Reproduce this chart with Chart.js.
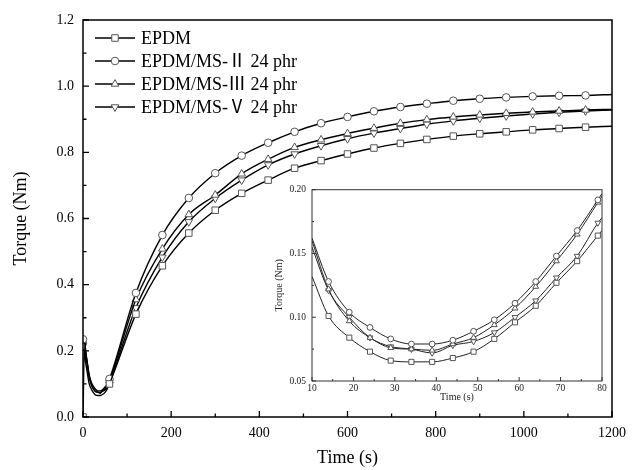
<!DOCTYPE html>
<html><head><meta charset="utf-8">
<script src="https://cdn.jsdelivr.net/npm/chart.js@4/dist/chart.umd.min.js"></script>
<style>
html,body{margin:0;padding:0;background:#fff;}
#wrap{position:relative;width:634px;height:470px;overflow:hidden;}
#main{position:absolute;left:0;top:0;}
#inset{position:absolute;left:262px;top:178px;}
</style></head><body>
<div id="wrap">
<canvas id="main" width="634" height="470"></canvas>
<canvas id="inset" width="352" height="232"></canvas>
</div>
<script>
// ---------- data ----------
const seriesNames = ['EPDM', 'EPDM/MS-Ⅱ 24 phr', 'EPDM/MS-Ⅲ 24 phr', 'EPDM/MS-Ⅴ 24 phr'];

const mainTimes = [0,3,6,10,14,19,24,29,34,39,44,49,54,60,120,180,240,300,360,420,480,540,600,660,720,780,840,900,960,1020,1080,1140,1200];
const mainEPDM  = [0.000,0.205,0.165,0.132,0.101,0.084,0.073,0.066,0.065,0.065,0.068,0.073,0.083,0.100,0.311,0.457,0.556,0.625,0.676,0.716,0.752,0.775,0.795,0.813,0.827,0.839,0.849,0.856,0.862,0.868,0.872,0.876,0.879];
const mainMS2   = [0.235,0.240,0.200,0.162,0.128,0.104,0.092,0.083,0.079,0.079,0.082,0.089,0.098,0.115,0.375,0.550,0.662,0.737,0.790,0.829,0.862,0.888,0.907,0.924,0.937,0.947,0.956,0.962,0.966,0.969,0.971,0.972,0.975];
const mainMS3   = [0.230,0.240,0.197,0.160,0.122,0.097,0.084,0.076,0.075,0.074,0.079,0.084,0.094,0.110,0.355,0.508,0.612,0.671,0.735,0.779,0.815,0.838,0.857,0.873,0.888,0.899,0.907,0.913,0.918,0.922,0.925,0.928,0.930];
const mainMS5   = [0.215,0.235,0.192,0.155,0.121,0.100,0.084,0.077,0.075,0.072,0.078,0.081,0.088,0.105,0.330,0.483,0.590,0.661,0.716,0.762,0.795,0.820,0.841,0.858,0.872,0.885,0.895,0.903,0.910,0.916,0.921,0.925,0.928];

const insetTimes = [10,14,19,24,29,34,39,44,49,54,59,64,69,74,79,80];
const insetEPDM  = [0.132,0.101,0.084,0.073,0.066,0.065,0.065,0.068,0.073,0.083,0.096,0.109,0.127,0.144,0.164,0.168];
const insetMS2   = [0.162,0.128,0.104,0.092,0.083,0.079,0.079,0.082,0.089,0.098,0.111,0.128,0.148,0.168,0.192,0.197];
const insetMS3   = [0.160,0.122,0.097,0.084,0.076,0.075,0.074,0.079,0.084,0.094,0.107,0.124,0.144,0.165,0.190,0.195];
const insetMS5   = [0.155,0.121,0.100,0.084,0.077,0.075,0.072,0.078,0.081,0.088,0.100,0.113,0.131,0.148,0.174,0.178];

const mainXTicks  = [0,200,400,600,800,1000,1200];
const mainXMinor  = [100,300,500,700,900,1100];
const mainYTicks  = [0.0,0.2,0.4,0.6,0.8,1.0,1.2];
const mainYMinor  = [0.1,0.3,0.5,0.7,0.9,1.1];
const insetXTicks = [10,20,30,40,50,60,70,80];
const insetXMinor = [15,25,35,45,55,65,75];
const insetYTicks = [0.05,0.10,0.15,0.20];
const insetYMinor = [0.075,0.125,0.175];

// ---------- styling ----------
const FONT = '"Liberation Serif", "Times New Roman", "Noto Sans CJK SC", serif';
const markerStyles = [
  {pointStyle:'rect', rotation:0},
  {pointStyle:'circle', rotation:0},
  {pointStyle:'triangle', rotation:0},
  {pointStyle:'triangle', rotation:180}
];
const mainRadius  = [4.6, 3.8, 4.4, 4.4];
const insetRadius = [3.6, 2.9, 3.4, 3.4];

function decor(cfg) {
  return {
    id: 'decor',
    afterDraw(chart) {
      const {ctx, chartArea: a, scales: {x, y}} = chart;
      ctx.save();
      ctx.strokeStyle = cfg.color;
      ctx.lineWidth = cfg.tickWidth;
      ctx.beginPath();
      cfg.xMajor.forEach(v => { const p = x.getPixelForValue(v); ctx.moveTo(p, a.bottom); ctx.lineTo(p, a.bottom - cfg.major); });
      cfg.xMinor.forEach(v => { const p = x.getPixelForValue(v); ctx.moveTo(p, a.bottom); ctx.lineTo(p, a.bottom - cfg.minor); });
      cfg.yMajor.forEach(v => { const p = y.getPixelForValue(v); ctx.moveTo(a.left, p); ctx.lineTo(a.left + cfg.major, p); });
      cfg.yMinor.forEach(v => { const p = y.getPixelForValue(v); ctx.moveTo(a.left, p); ctx.lineTo(a.left + cfg.minor, p); });
      ctx.stroke();
      ctx.lineWidth = cfg.frameWidth;
      ctx.strokeRect(a.left, a.top, a.right - a.left, a.bottom - a.top);
      ctx.restore();
    }
  };
}

const legendPlugin = {
  id: 'boxLegend',
  afterDraw(chart) {
    const ctx = chart.ctx;
    ctx.save();
    chart.data.datasets.forEach((ds, i) => {
      const yy = 38 + i * 23;
      ctx.strokeStyle = '#000';
      ctx.lineWidth = 1.4;
      ctx.beginPath(); ctx.moveTo(95, yy); ctx.lineTo(135, yy); ctx.stroke();
      ctx.fillStyle = '#fff';
      ctx.strokeStyle = '#555';
      ctx.lineWidth = 1;
      Chart.helpers.drawPoint(ctx, {pointStyle: ds.pointStyle, rotation: ds.pointRotation, radius: mainRadius[i], borderWidth: 1}, 115, yy);
      ctx.fillStyle = '#000';
      ctx.font = '18px ' + FONT;
      ctx.textAlign = 'left';
      ctx.textBaseline = 'middle';
      ctx.fillText(ds.label, 141, yy + 1);
    });
    ctx.restore();
  }
};

function makeDatasets(times, seriesList, radii, lineColor, lineWidth, showMarker) {
  return seriesList.map((vals, i) => ({
    label: seriesNames[i],
    data: times.map((t, k) => ({x: t, y: vals[k]})),
    borderColor: lineColor,
    borderWidth: lineWidth,
    pointStyle: markerStyles[i].pointStyle,
    pointRotation: markerStyles[i].rotation,
    pointRadius: c => (c.raw && showMarker(c.raw.x)) ? radii[i] : 0,
    pointHoverRadius: 0,
    pointBackgroundColor: '#fff',
    pointBorderColor: '#555',
    pointBorderWidth: 1,
    cubicInterpolationMode: 'monotone',
    fill: false
  }));
}

// ---------- main chart ----------
new Chart(document.getElementById('main'), {
  type: 'line',
  data: {
    datasets: makeDatasets(mainTimes, [mainEPDM, mainMS2, mainMS3, mainMS5], mainRadius, '#000', 1.4,
      t => t % 60 === 0 && t < 1200)
  },
  options: {
    responsive: false, animation: false, devicePixelRatio: 1,
    layout: {padding: {left: 0, top: 20, right: 18, bottom: 0}},
    plugins: {legend: {display: false}, tooltip: {enabled: false}},
    scales: {
      x: {
        type: 'linear', min: 0, max: 1200,
        afterBuildTicks: s => { s.ticks = mainXTicks.map(v => ({value: v})); },
        afterFit: s => { s.height = 53; },
        grid: {display: false, drawTicks: false}, border: {display: false},
        ticks: {padding: 8, color: '#000', font: {family: FONT, size: 14}, maxRotation: 0, autoSkip: false, callback: v => String(v)},
        title: {display: true, text: 'Time (s)', color: '#000', font: {family: FONT, size: 18}, padding: {top: 0, bottom: 1}}
      },
      y: {
        type: 'linear', min: 0, max: 1.2,
        afterBuildTicks: s => { s.ticks = mainYTicks.map(v => ({value: v})); },
        afterFit: s => { s.width = 83; },
        grid: {display: false, drawTicks: false}, border: {display: false},
        ticks: {padding: 9, color: '#000', font: {family: FONT, size: 14}, autoSkip: false, callback: v => Number(v).toFixed(1)},
        title: {display: true, text: 'Torque (Nm)', color: '#000', font: {family: FONT, size: 18}, padding: {top: 10, bottom: 0}}
      }
    }
  },
  plugins: [decor({color: '#000', tickWidth: 1.3, frameWidth: 1.5, major: 6, minor: 3.5,
    xMajor: mainXTicks, xMinor: mainXMinor, yMajor: mainYTicks, yMinor: mainYMinor}), legendPlugin]
});

// ---------- inset chart ----------
new Chart(document.getElementById('inset'), {
  type: 'line',
  data: {
    datasets: makeDatasets(insetTimes, [insetEPDM, insetMS2, insetMS3, insetMS5], insetRadius, '#222', 1,
      t => t > 10 && t < 80)
  },
  options: {
    responsive: false, animation: false, devicePixelRatio: 1,
    layout: {padding: {left: 0, top: 10, right: 12, bottom: 0}},
    plugins: {legend: {display: false}, tooltip: {enabled: false}},
    scales: {
      x: {
        type: 'linear', min: 10, max: 80,
        afterBuildTicks: s => { s.ticks = insetXTicks.map(v => ({value: v})); },
        afterFit: s => { s.height = 29; },
        grid: {display: false, drawTicks: false}, border: {display: false},
        ticks: {padding: 2, color: '#222', font: {family: FONT, size: 9.5}, maxRotation: 0, autoSkip: false, callback: v => String(v)},
        title: {display: true, text: 'Time (s)', color: '#222', font: {family: FONT, size: 10}, padding: {top: 0, bottom: 6.5}}
      },
      y: {
        type: 'linear', min: 0.05, max: 0.20,
        afterBuildTicks: s => { s.ticks = insetYTicks.map(v => ({value: v})); },
        afterFit: s => { s.width = 50; },
        grid: {display: false, drawTicks: false}, border: {display: false},
        ticks: {padding: 6, color: '#222', font: {family: FONT, size: 9.5}, autoSkip: false, callback: v => Number(v).toFixed(2)},
        title: {display: true, text: 'Torque (Nm)', color: '#222', font: {family: FONT, size: 10}, padding: {top: 11, bottom: 0}}
      }
    }
  },
  plugins: [decor({color: '#333', tickWidth: 1, frameWidth: 1, major: 4, minor: 2,
    xMajor: insetXTicks, xMinor: insetXMinor, yMajor: insetYTicks, yMinor: insetYMinor})]
});
</script>
</body></html>
